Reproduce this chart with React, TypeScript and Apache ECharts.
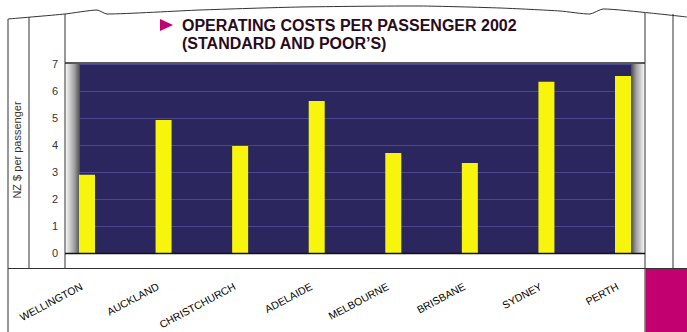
import React, { useEffect, useRef } from "react";
import * as echarts from "echarts";

const categories = ["WELLINGTON", "AUCKLAND", "CHRISTCHURCH", "ADELAIDE", "MELBOURNE", "BRISBANE", "SYDNEY", "PERTH"];
const costs = [2.9, 4.93, 3.96, 5.63, 3.7, 3.33, 6.34, 6.56];
const yTicks = { min: 0, max: 7, interval: 1 };
const titleLines = ["OPERATING COSTS PER PASSENGER 2002", "(STANDARD AND POOR\u2019S)"];
const yAxisTitle = "NZ $ per passenger";

const FONT = "'Liberation Sans', Arial, Helvetica, sans-serif";
const DARK = "#2b265e";
const GRID = "#4a4690";
const YELLOW = "#f7f50c";
const MAGENTA = "#c2006f";
const LINE = "#333333";

export default function App() {
  const ref = useRef<HTMLDivElement>(null);
  useEffect(() => {
    if (!ref.current) return;
    const chart = echarts.init(ref.current, undefined, { renderer: "svg" });
    const plotTop = 64;
    const plotBottom = 253;
    chart.setOption({
      animation: false,
      backgroundColor: "#ffffff",
      textStyle: { fontFamily: FONT },
      grid: [
        { left: 87, right: 64, top: plotTop, bottom: 332 - plotBottom, show: false },
        { left: 80, right: 56, top: plotTop, bottom: 332 - plotBottom, show: true, backgroundColor: DARK, borderWidth: 0 },
      ],
      xAxis: [
        {
          type: "category",
          gridIndex: 0,
          data: categories,
          boundaryGap: false,
          axisLine: { show: false },
          axisTick: { show: false },
          axisLabel: { rotate: 28, margin: 30, fontSize: 10.5, color: "#000", fontFamily: FONT, interval: 0, padding: [0, 6, 0, 0] },
        },
        { type: "value", gridIndex: 1, show: false, min: 0, max: 1 },
      ],
      yAxis: [
        { type: "value", gridIndex: 0, min: yTicks.min, max: yTicks.max, interval: yTicks.interval, show: false },
        {
          type: "value",
          gridIndex: 1,
          min: yTicks.min,
          max: yTicks.max,
          interval: yTicks.interval,
          axisLine: { show: false },
          axisTick: { show: false },
          axisLabel: { margin: 22, fontSize: 11, color: "#333", fontFamily: FONT },
          splitLine: { show: true, lineStyle: { color: GRID, width: 1.2 } },
        },
      ],
      series: [
        {
          type: "bar",
          xAxisIndex: 0,
          yAxisIndex: 0,
          data: costs,
          barWidth: 16,
          itemStyle: { color: YELLOW },
          z: 3,
        },
      ],
      graphic: [
        {
          type: "polyline",
          shape: {
            points: [[8, 19], [65, 14], [97, 10], [107, 14], [200, 10], [300, 7], [420, 6], [500, 8], [560, 11], [590, 14], [603, 9], [650, 13], [687, 17]],
            smooth: 0.2,
          },
          style: { stroke: LINE, lineWidth: 1, fill: null },
        },
        { type: "line", shape: { x1: 8, y1: 19, x2: 8, y2: 332 }, style: { stroke: LINE, lineWidth: 1 } },
        { type: "line", shape: { x1: 29, y1: 17, x2: 29, y2: 268 }, style: { stroke: LINE, lineWidth: 1 } },
        { type: "line", shape: { x1: 65, y1: 14, x2: 65, y2: 268 }, style: { stroke: LINE, lineWidth: 1 } },
        { type: "line", shape: { x1: 645, y1: 13, x2: 645, y2: 332 }, style: { stroke: LINE, lineWidth: 1 } },
        { type: "line", shape: { x1: 673, y1: 14, x2: 673, y2: 268 }, style: { stroke: LINE, lineWidth: 1 } },
        { type: "line", shape: { x1: 8, y1: 268.5, x2: 687, y2: 268.5 }, style: { stroke: LINE, lineWidth: 1.2 } },
        { type: "rect", shape: { x: 645.5, y: 269, width: 42, height: 63 }, style: { fill: MAGENTA } },
        { type: "line", shape: { x1: 65, y1: 63, x2: 645, y2: 63 }, style: { stroke: "#222", lineWidth: 1.5 }, z: 10 },
        {
          type: "rect",
          shape: { x: 66, y: 64, width: 14, height: plotBottom - plotTop },
          style: {
            fill: new echarts.graphic.LinearGradient(0, 0, 1, 0, [
              { offset: 0, color: "#f4f4f4" },
              { offset: 0.6, color: "#a0a0a0" },
              { offset: 1, color: "#4a4a4a" },
            ]),
          },
        },
        {
          type: "rect",
          shape: { x: 631, y: 64, width: 13, height: plotBottom - plotTop },
          style: {
            fill: new echarts.graphic.LinearGradient(0, 0, 1, 0, [
              { offset: 0, color: "#4a4a4a" },
              { offset: 0.4, color: "#a0a0a0" },
              { offset: 1, color: "#f4f4f4" },
            ]),
          },
        },
        { type: "line", shape: { x1: 65, y1: plotBottom + 0.5, x2: 645, y2: plotBottom + 0.5 }, style: { stroke: "#111", lineWidth: 1.6 }, z: 10 },
        {
          type: "polygon",
          shape: { points: [[160, 19], [173, 25], [160, 31]] },
          style: { fill: MAGENTA },
        },
        {
          type: "text",
          x: 182,
          y: 17,
          style: { text: titleLines[0], font: `bold 16px ${FONT}`, fill: "#2a0a1c", textVerticalAlign: "top" },
        },
        {
          type: "text",
          x: 182,
          y: 35,
          style: { text: titleLines[1], font: `bold 16px ${FONT}`, fill: "#2a0a1c", textVerticalAlign: "top" },
        },
        {
          type: "text",
          x: 17,
          y: 150,
          rotation: Math.PI / 2,
          style: { text: yAxisTitle, font: `11px ${FONT}`, fill: "#333", align: "center", verticalAlign: "middle" },
        },
      ],
    });
    return () => chart.dispose();
  }, []);
  return <div ref={ref} style={{ width: 687, height: 332, position: "absolute", left: 0, top: 0 }} />;
}
